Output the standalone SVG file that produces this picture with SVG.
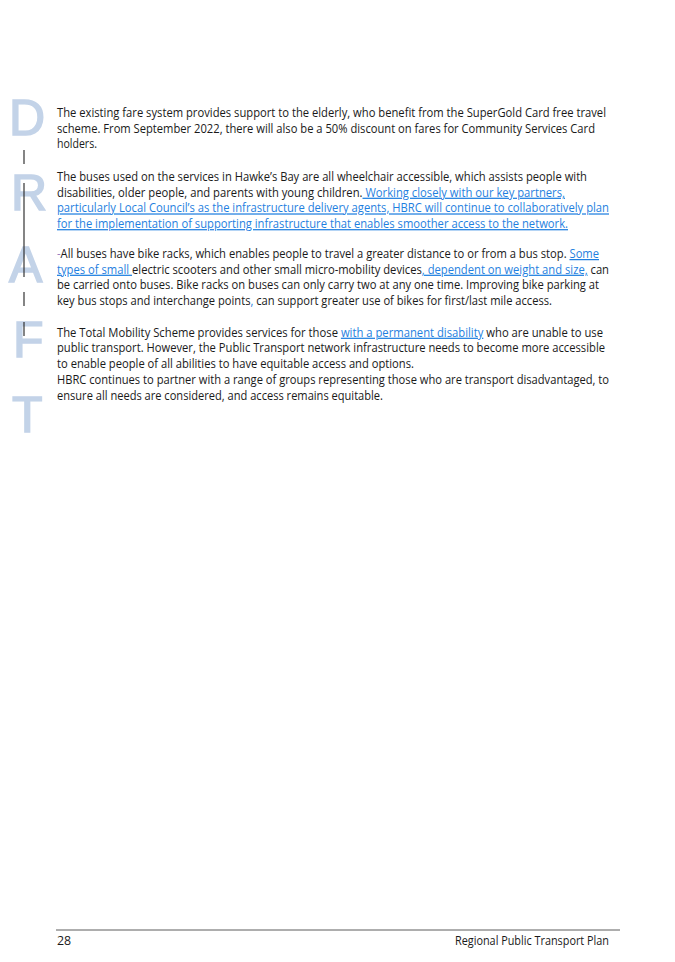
<svg xmlns="http://www.w3.org/2000/svg" width="675" height="962" viewBox="0 0 675 962">
<style>
.t{font-family:"Open Sans","Liberation Sans",sans-serif;font-size:12.4px;fill:#1a1a1a}
.l{fill:#1f7fe0;text-decoration:underline}
.d{font-family:"Liberation Sans",sans-serif;font-size:50px;fill:#c3d3e8;stroke:#c3d3e8;stroke-width:1.5}
.b{stroke:#333;stroke-width:1.2}
</style>
<rect width="675" height="962" fill="#fff"/>
<g id="draft">
<text class="d" x="9" y="135">D</text>
<text class="d" x="11" y="210">R</text>
<text class="d" x="9" y="282">A</text>
<text class="d" x="13" y="357">F</text>
<text class="d" x="12" y="432">T</text>
<line class="b" x1="24" y1="150" x2="24" y2="164"/>
<line class="b" x1="24" y1="183" x2="24" y2="277"/>
<line class="b" x1="24" y1="292" x2="24" y2="306"/>
<line class="b" x1="24" y1="322" x2="24" y2="336"/>
</g>
<g id="body">
<text class="t" x="57" y="117" textLength="549" lengthAdjust="spacingAndGlyphs">The existing fare system provides support to the elderly, who benefit from the SuperGold Card free travel</text>
<text class="t" x="57" y="132.7" textLength="538" lengthAdjust="spacingAndGlyphs">scheme. From September 2022, there will also be a 50% discount on fares for Community Services Card</text>
<text class="t" x="57" y="148.4" textLength="40" lengthAdjust="spacingAndGlyphs">holders.</text>

<text class="t" x="57" y="181" textLength="530" lengthAdjust="spacingAndGlyphs">The buses used on the services in Hawke’s Bay are all wheelchair accessible, which assists people with</text>
<text class="t" x="57" y="196.7" textLength="508" lengthAdjust="spacingAndGlyphs">disabilities, older people, and parents with young children.<tspan class="l"> Working closely with our key partners,</tspan></text>
<text class="t l" x="57" y="212.4" textLength="552" lengthAdjust="spacingAndGlyphs">particularly Local Council’s as the infrastructure delivery agents, HBRC will continue to collaboratively plan</text>
<text class="t l" x="57" y="228.1" textLength="511" lengthAdjust="spacingAndGlyphs">for the implementation of supporting infrastructure that enables smoother access to the network.</text>

<text class="t" x="57" y="258" textLength="542" lengthAdjust="spacingAndGlyphs"><tspan fill="#9a7fc0">-</tspan>All buses have bike racks, which enables people to travel a greater distance to or from a bus stop. <tspan class="l">Some</tspan></text>
<text class="t" x="57" y="273.7" textLength="552" lengthAdjust="spacingAndGlyphs"><tspan class="l">types of small </tspan>electric scooters and other small micro-mobility devices<tspan class="l">, dependent on weight and size,</tspan> can</text>
<text class="t" x="57" y="289.4" textLength="542" lengthAdjust="spacingAndGlyphs">be carried onto buses. Bike racks on buses can only carry two at any one time. Improving bike parking at</text>
<text class="t" x="57" y="305.1" textLength="495" lengthAdjust="spacingAndGlyphs">key bus stops and interchange points<tspan fill="#1f7fe0">,</tspan> can support greater use of bikes for first/last mile access.</text>

<text class="t" x="57" y="336.7" textLength="546" lengthAdjust="spacingAndGlyphs">The Total Mobility Scheme provides services for those <tspan class="l">with a permanent disability</tspan> who are unable to use</text>
<text class="t" x="57" y="352.4" textLength="548" lengthAdjust="spacingAndGlyphs">public transport. However, the Public Transport network infrastructure needs to become more accessible</text>
<text class="t" x="57" y="368.1" textLength="357" lengthAdjust="spacingAndGlyphs">to enable people of all abilities to have equitable access and options.</text>
<text class="t" x="57" y="383.8" textLength="552" lengthAdjust="spacingAndGlyphs">HBRC continues to partner with a range of groups representing those who are transport disadvantaged, to</text>
<text class="t" x="57" y="399.5" textLength="326" lengthAdjust="spacingAndGlyphs">ensure all needs are considered, and access remains equitable.</text>
</g>
<g id="footer">
<line x1="56" y1="930" x2="620" y2="930" stroke="#333" stroke-width="0.8"/>
<text class="t" x="57" y="945" font-size="11.5">28</text>
<text class="t" x="609" y="945" text-anchor="end" font-size="11.5" textLength="154" lengthAdjust="spacingAndGlyphs">Regional Public Transport Plan</text>
</g>
</svg>
